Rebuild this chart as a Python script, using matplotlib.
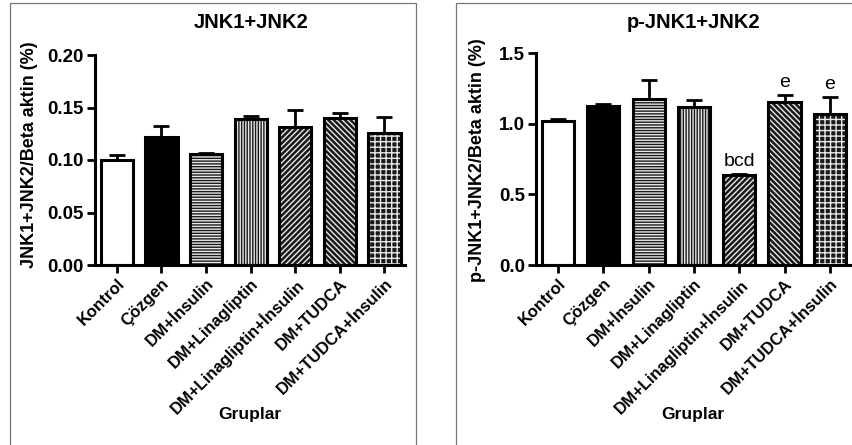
import matplotlib
matplotlib.use("Agg")
import matplotlib.pyplot as plt
from matplotlib.patches import Rectangle

plt.rcParams['font.family'] = ['Liberation Sans', 'DejaVu Sans']
plt.rcParams['hatch.linewidth'] = 1.0

# Data
groups = ["Kontrol", "Çözgen", "DM+İnsulin", "DM+Linagliptin",
          "DM+Linagliptin+İnsulin", "DM+TUDCA", "DM+TUDCA+İnsulin"]
jnk = [0.100, 0.122, 0.106, 0.139, 0.131, 0.140, 0.126]
jnk_err = [0.005, 0.010, 0.0005, 0.003, 0.017, 0.005, 0.015]
pjnk = [1.02, 1.125, 1.175, 1.12, 0.64, 1.155, 1.07]
pjnk_err = [0.015, 0.015, 0.135, 0.05, 0.005, 0.05, 0.12]
pjnk_marks = ["", "", "", "", "bcd", "e", "e"]

# bar styles: (face, hatch)
styles = [("white", None), ("black", None), ("#1a1a1a", "------"),
          ("#1a1a1a", "||||||"), ("#1a1a1a", "//////"),
          ("#1a1a1a", "\\\\\\\\\\\\"), ("#1a1a1a", "+++")]

W, H = 853, 445
fig = plt.figure(figsize=(W / 100, H / 100), dpi=100)

# panel frames
for x0, x1 in [(10, 416), (456, 860)]:
    fig.add_artist(Rectangle((x0 / W, -0.05), (x1 - x0) / W, 1.05 - 3 / H,
                             transform=fig.transFigure, fill=False,
                             edgecolor="#777777", linewidth=0.9))


def draw(ax, vals, errs, ymax, yticks, fmt, xlim, width):
    x = list(range(len(vals)))
    for i, (v, (fc, hatch)) in enumerate(zip(vals, styles)):
        if hatch:
            ax.bar(i, v, width, color=fc, edgecolor="#e8e8e8", hatch=hatch,
                   linewidth=0, zorder=2)
        else:
            ax.bar(i, v, width, color=fc, linewidth=0, zorder=2)
    ax.errorbar(x, vals, yerr=[[0] * len(vals), errs], fmt="none",
                ecolor="black", elinewidth=2, capsize=6, capthick=2, zorder=3)
    ax.bar(x, vals, width, fill=False, edgecolor="black", linewidth=2.2,
           zorder=4)
    ax.set_ylim(0, ymax)
    ax.set_xlim(*xlim)
    ax.set_yticks(yticks)
    ax.set_yticklabels([fmt % t for t in yticks], fontsize=13.5,
                       fontweight="bold")
    ax.set_xticks(x)
    ax.set_xticklabels(groups, rotation=45, ha="right",
                       rotation_mode="anchor", fontsize=12, fontweight="bold")
    for s in ["top", "right"]:
        ax.spines[s].set_visible(False)
    for s in ["left", "bottom"]:
        ax.spines[s].set_linewidth(2.2)
    ax.tick_params(direction="out", length=6, width=2, pad=2)
    ax.patch.set_visible(False)


# left panel
ax1 = fig.add_axes([95 / W, 1 - 265 / H, 310 / W, 210 / H])
draw(ax1, jnk, jnk_err, 0.20, [0, 0.05, 0.10, 0.15, 0.20], "%.2f",
     (-0.49, 6.46), 0.72)
fig.text(251 / W, 1 - 23 / H, "JNK1+JNK2", ha="center", va="center",
         fontsize=14.5, fontweight="bold")
fig.text(30 / W, 1 - 155 / H, "JNK1+JNK2/Beta aktin (%)", ha="center",
         va="center", rotation=90, fontsize=13, fontweight="bold")
fig.text(250 / W, 1 - 415 / H, "Gruplar", ha="center", va="center",
         fontsize=12.5, fontweight="bold")

# right panel
ax2 = fig.add_axes([536 / W, 1 - 265 / H, 317 / W, 211.7 / H])
draw(ax2, pjnk, pjnk_err, 1.5, [0.0, 0.5, 1.0, 1.5], "%.1f",
     (-0.485, 6.51), 0.71)
for i, m in enumerate(pjnk_marks):
    if m:
        ax2.text(i, pjnk[i] + pjnk_err[i] + 0.03, m, ha="center",
                 va="bottom", fontsize=14)
fig.text(694 / W, 1 - 23 / H, "p-JNK1+JNK2", ha="center", va="center",
         fontsize=14.5, fontweight="bold")
fig.text(478 / W, 1 - 160 / H, "p-JNK1+JNK2/Beta aktin (%)", ha="center",
         va="center", rotation=90, fontsize=13, fontweight="bold")
fig.text(693 / W, 1 - 415 / H, "Gruplar", ha="center", va="center",
         fontsize=12.5, fontweight="bold")

fig.savefig("out.png", dpi=100)
